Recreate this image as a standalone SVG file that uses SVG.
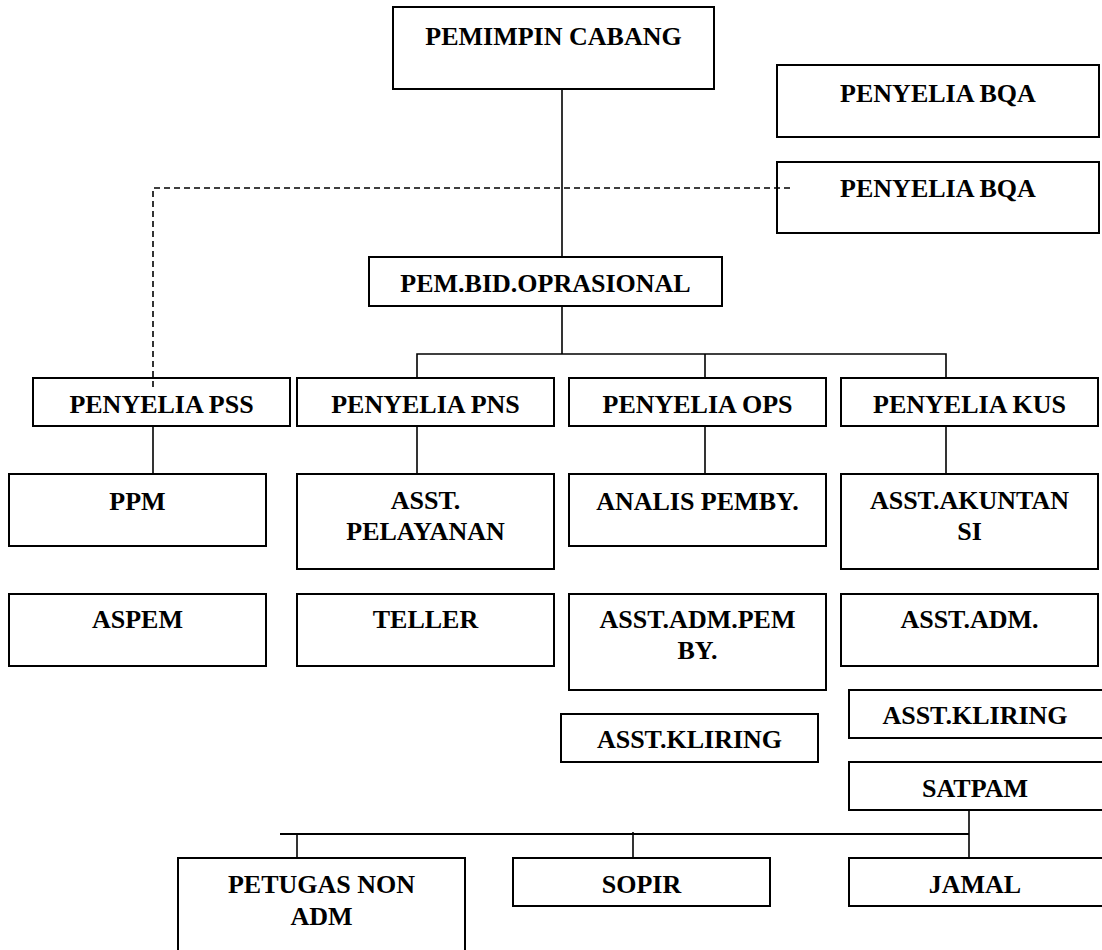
<svg xmlns="http://www.w3.org/2000/svg" width="1102" height="950" viewBox="0 0 1102 950">
<style>
.box{fill:#fff;stroke:#000;stroke-width:2}
.t{font-family:"Liberation Serif","Times New Roman",serif;font-weight:bold;font-size:26px;fill:#000;text-anchor:middle}
.ln{fill:none;stroke:#000;stroke-width:1.6}
.dash{fill:none;stroke:#000;stroke-width:1.6;stroke-dasharray:6 4}
</style>
<rect width="1102" height="950" fill="#fff"/>
<g id="pemimpin"><rect class="box" x="393" y="7" width="321" height="82"/><text class="t" x="553.5" y="45">PEMIMPIN CABANG</text></g>
<g id="bqa1"><rect class="box" x="777" y="65" width="322" height="72"/><text class="t" x="938" y="102">PENYELIA BQA</text></g>
<g id="bqa2"><rect class="box" x="777" y="162" width="322" height="71"/><text class="t" x="938" y="197">PENYELIA BQA</text></g>
<g id="pembid"><rect class="box" x="369" y="257" width="353" height="49"/><text class="t" x="545.5" y="292">PEM.BID.OPRASIONAL</text></g>
<g id="pss"><rect class="box" x="33" y="378" width="257" height="48"/><text class="t" x="161.5" y="413">PENYELIA PSS</text></g>
<g id="pns"><rect class="box" x="297" y="378" width="257" height="48"/><text class="t" x="425.5" y="413">PENYELIA PNS</text></g>
<g id="ops"><rect class="box" x="569" y="378" width="257" height="48"/><text class="t" x="697.5" y="413">PENYELIA OPS</text></g>
<g id="kus"><rect class="box" x="841" y="378" width="257" height="48"/><text class="t" x="969.5" y="413">PENYELIA KUS</text></g>
<g id="ppm"><rect class="box" x="9" y="474" width="257" height="72"/><text class="t" x="137.5" y="510">PPM</text></g>
<g id="pelayanan"><rect class="box" x="297" y="474" width="257" height="95"/><text class="t" x="425.5" y="509">ASST.</text><text class="t" x="425.5" y="540">PELAYANAN</text></g>
<g id="analis"><rect class="box" x="569" y="474" width="257" height="72"/><text class="t" x="697.5" y="510">ANALIS PEMBY.</text></g>
<g id="akuntansi"><rect class="box" x="841" y="474" width="257" height="95"/><text class="t" x="969.5" y="509">ASST.AKUNTAN</text><text class="t" x="969.5" y="540">SI</text></g>
<g id="aspem"><rect class="box" x="9" y="594" width="257" height="72"/><text class="t" x="137.5" y="628">ASPEM</text></g>
<g id="teller"><rect class="box" x="297" y="594" width="257" height="72"/><text class="t" x="425.5" y="628">TELLER</text></g>
<g id="admpemby"><rect class="box" x="569" y="594" width="257" height="96"/><text class="t" x="697.5" y="628">ASST.ADM.PEM</text><text class="t" x="697.5" y="659">BY.</text></g>
<g id="adm"><rect class="box" x="841" y="594" width="257" height="72"/><text class="t" x="969.5" y="628">ASST.ADM.</text></g>
<g id="kliring1"><rect class="box" x="561" y="714" width="257" height="48"/><text class="t" x="689.5" y="748">ASST.KLIRING</text></g>
<g id="kliring2"><rect class="box" x="849" y="690" width="260" height="48"/><text class="t" x="975" y="724">ASST.KLIRING</text></g>
<g id="satpam"><rect class="box" x="849" y="762" width="260" height="48"/><text class="t" x="975" y="797">SATPAM</text></g>
<g id="petugas"><rect class="box" x="178" y="858" width="287" height="100"/><text class="t" x="321.5" y="893">PETUGAS NON</text><text class="t" x="321.5" y="925">ADM</text></g>
<g id="sopir"><rect class="box" x="513" y="858" width="257" height="48"/><text class="t" x="641.5" y="893">SOPIR</text></g>
<g id="jamal"><rect class="box" x="849" y="858" width="260" height="48"/><text class="t" x="975" y="893">JAMAL</text></g>
<g id="connectors">
<line class="ln" x1="562" y1="89" x2="562" y2="257"/>
<line class="ln" x1="562" y1="306" x2="562" y2="354"/>
<polyline class="ln" points="417,378 417,354 946,354 946,378"/>
<line class="ln" x1="705" y1="354" x2="705" y2="378"/>
<line class="ln" x1="153" y1="426" x2="153" y2="474"/>
<line class="ln" x1="417" y1="426" x2="417" y2="474"/>
<line class="ln" x1="705" y1="426" x2="705" y2="474"/>
<line class="ln" x1="946" y1="426" x2="946" y2="474"/>
<polyline class="dash" points="790,188 153,188 153,388"/>
<line class="ln" x1="969" y1="810" x2="969" y2="858"/>
<line class="ln" x1="280" y1="834" x2="969" y2="834" style="stroke-width:2"/>
<line class="ln" x1="297" y1="834" x2="297" y2="858"/>
<line class="ln" x1="633" y1="832" x2="633" y2="858"/>
</g>
</svg>
